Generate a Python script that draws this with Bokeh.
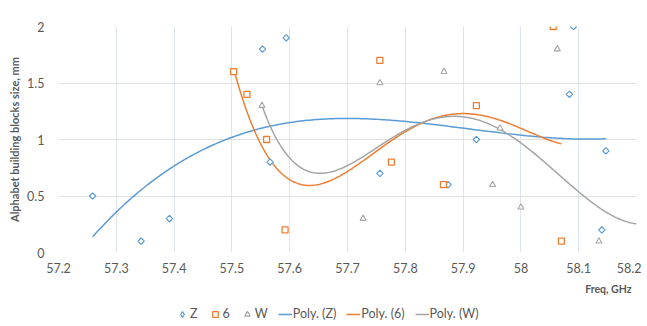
import numpy as np
from bokeh.plotting import figure
from bokeh.layouts import column
from bokeh.models import (FixedTicker, CustomJSTickFormatter, Title,
                          Legend, LegendItem, Range1d)
from bokeh.embed import file_html
from bokeh.resources import INLINE

# ---- data ----
z_x = [57.259, 57.343, 57.392, 57.553, 57.594, 57.566, 57.756, 57.874, 57.923, 58.091, 58.084, 58.147, 58.140]
z_y = [0.5, 0.1, 0.3, 1.8, 1.9, 0.8, 0.7, 0.6, 1.0, 2.0, 1.4, 0.9, 0.2]

s6_x = [57.503, 57.526, 57.560, 57.592, 57.756, 57.776, 57.866, 57.923, 58.056, 58.070]
s6_y = [1.6, 1.4, 1.0, 0.2, 1.7, 0.8, 0.6, 1.3, 2.0, 0.1]

w_x = [57.552, 57.727, 57.756, 57.867, 57.951, 57.964, 58.000, 58.063, 58.135]
w_y = [1.3, 0.3, 1.5, 1.6, 0.6, 1.1, 0.4, 1.8, 0.1]

# Poly. (W) trendline (it runs on to the axis end)
w_trend_x = [57.553, 57.569, 57.583, 57.600, 57.625, 57.649, 57.675, 57.704, 57.730,
             57.762, 57.814, 57.850, 57.898, 57.930, 57.964, 58.000, 58.050, 58.096,
             58.148, 58.200]
w_trend_y = [1.29, 1.11, 0.93, 0.81, 0.75, 0.71, 0.72, 0.785, 0.86,
             0.96, 1.12, 1.17, 1.20, 1.17, 1.095, 0.976, 0.755, 0.55,
             0.357, 0.254]

x_ticks = [57.2, 57.3, 57.4, 57.5, 57.6, 57.7, 57.8, 57.9, 58.0, 58.1, 58.2]
y_ticks = [0, 0.5, 1, 1.5, 2]

BLUE, ORANGE, GRAY = "#5B9BD5", "#ED7D31", "#A5A5A5"
FONT = "Lato"
TXT = "#595959"

Z_STYLE = dict(marker="square", angle=np.pi / 4, size=4.5, line_color=BLUE,
               fill_color="white", line_width=1.2)
Z_KEY_STYLE = dict(marker="diamond", size=7, line_color=BLUE, fill_color="white", line_width=1.2)
S6_STYLE = dict(marker="square", size=6, line_color=ORANGE, fill_color="white", line_width=1.3)
W_STYLE = dict(marker="triangle", size=6, line_color=GRAY, fill_color="white", line_width=1.1)


def poly_trend(xs, ys, deg, n=240):
    xs = np.asarray(xs, dtype=float)
    c = np.polyfit(xs - 57.7, np.asarray(ys, dtype=float), deg)
    gx = np.linspace(xs.min(), xs.max(), n)
    return gx, np.polyval(c, gx - 57.7)


# ---------------- main chart ----------------
p = figure(width=641, height=306, output_backend="svg", toolbar_location=None,
           x_range=Range1d(57.2, 58.2), y_range=Range1d(0, 2),
           min_border_left=58, min_border_right=5, min_border_top=26, min_border_bottom=54)
p.outline_line_color = None
p.background_fill_color = "white"
p.border_fill_color = "white"

for ax in (p.xaxis[0], p.yaxis[0]):
    ax.axis_line_color = None
    ax.major_tick_line_color = None
    ax.minor_tick_line_color = None
    ax.major_tick_out = 0
    ax.major_tick_in = 0
    ax.major_label_text_font = FONT
    ax.major_label_text_font_size = "12.5px"
    ax.major_label_text_color = TXT
    ax.formatter = CustomJSTickFormatter(code="return (Math.round(tick*10)/10).toString();")
p.xaxis[0].ticker = FixedTicker(ticks=x_ticks)
p.yaxis[0].ticker = FixedTicker(ticks=y_ticks)
p.xaxis[0].major_label_standoff = 10
p.yaxis[0].major_label_standoff = 14
p.yaxis[0].axis_label = "Alphabet building blocks size, mm"
p.yaxis[0].axis_label_standoff = 3
p.yaxis[0].axis_label_text_font = FONT
p.yaxis[0].axis_label_text_font_style = "bold"
p.yaxis[0].axis_label_text_font_size = "11px"
p.yaxis[0].axis_label_text_color = TXT

p.xgrid.grid_line_color = "#dde4ee"
p.ygrid.grid_line_color = "#e0e0e0"
p.xgrid.ticker = FixedTicker(ticks=x_ticks)
p.ygrid.ticker = FixedTicker(ticks=y_ticks)

# trendlines
tz = poly_trend(z_x, z_y, 3)
t6 = poly_trend(s6_x, s6_y, 4)
tw = poly_trend(w_trend_x, w_trend_y, 5)
p.line(tz[0], tz[1], line_color=BLUE, line_width=1.5)
p.line(t6[0], t6[1], line_color=ORANGE, line_width=1.5)
p.line(tw[0], tw[1], line_color=GRAY, line_width=1.5)

p.scatter(z_x, z_y, **Z_STYLE)
p.scatter(s6_x, s6_y, **S6_STYLE)
p.scatter(w_x, w_y, **W_STYLE)

p.add_layout(Title(text="Freq, GHz", align="right", offset=5, standoff=11,
                   text_font=FONT, text_font_style="bold", text_font_size="10.5px",
                   text_color=TXT), "below")

# ---------------- legend strip ----------------
# A thin companion figure carries the legend; its proxy renderers reuse the series
# but its ranges keep them out of view, so only the legend keys show.
lg = figure(width=641, height=20, output_backend="svg", toolbar_location=None,
            x_range=Range1d(0, 1), y_range=Range1d(0, 1),
            x_axis_type=None, y_axis_type=None,
            min_border_left=0, min_border_right=0, min_border_top=0, min_border_bottom=0)
lg.outline_line_color = None
lg.grid.visible = False
lg.background_fill_color = "white"
lg.border_fill_color = "white"

kz = lg.scatter(z_x, z_y, **Z_KEY_STYLE)
k6 = lg.scatter(s6_x, s6_y, **S6_STYLE)
kw = lg.scatter(w_x, w_y, **W_STYLE)
kzl = lg.line(tz[0], tz[1], line_color=BLUE, line_width=1.5)
k6l = lg.line(t6[0], t6[1], line_color=ORANGE, line_width=1.5)
kwl = lg.line(tw[0], tw[1], line_color=GRAY, line_width=1.5)

legend = Legend(items=[
    LegendItem(label="Z", renderers=[kz]),
    LegendItem(label="6", renderers=[k6]),
    LegendItem(label="W", renderers=[kw]),
    LegendItem(label="Poly. (Z)", renderers=[kzl]),
    LegendItem(label="Poly. (6)", renderers=[k6l]),
    LegendItem(label="Poly. (W)", renderers=[kwl]),
], orientation="horizontal", location=(117, 5), padding=0, margin=0,
    border_line_color=None, background_fill_alpha=0,
    glyph_width=14, glyph_height=14, label_height=14, label_width=0,
    label_standoff=1, spacing=10,
    label_text_font=FONT, label_text_font_size="12.5px", label_text_color=TXT)
lg.add_layout(legend, "center")

page = column(p, lg, spacing=0)
open("out.html", "w").write(file_html(page, INLINE))
